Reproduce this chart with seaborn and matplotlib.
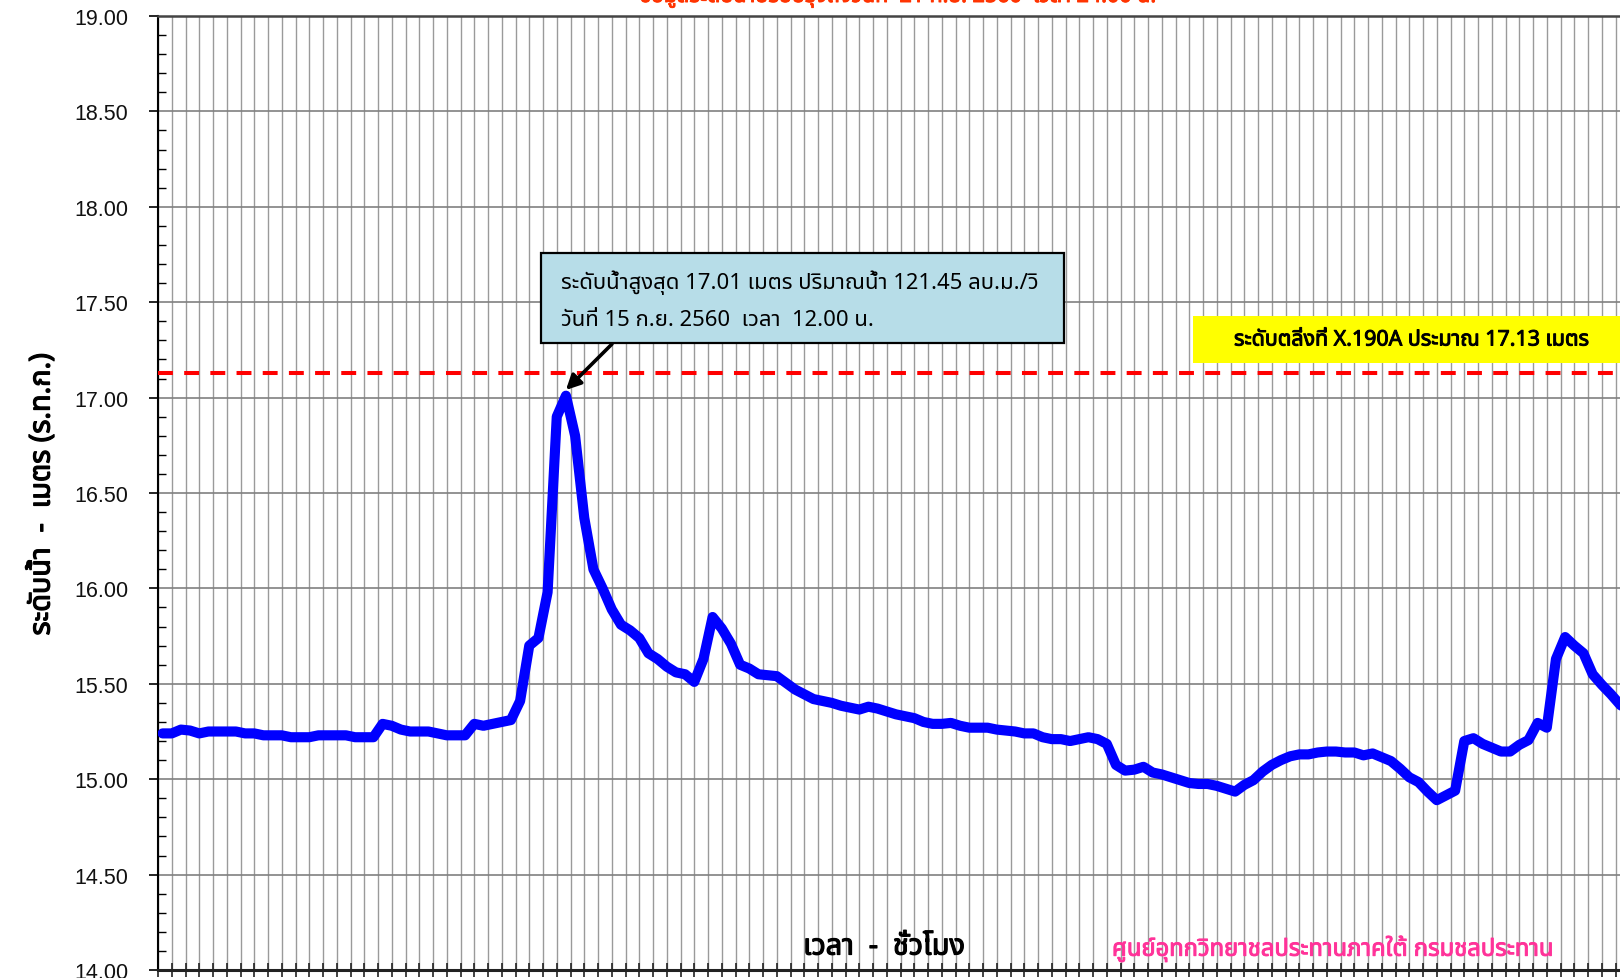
import numpy as np
import pandas as pd
import seaborn as sns
import matplotlib
matplotlib.use("Agg")
import matplotlib.pyplot as plt
import matplotlib.patheffects as pe
from matplotlib import font_manager as fm
from matplotlib.ft2font import FT2Font
from matplotlib.patches import Rectangle
from matplotlib.ticker import MultipleLocator, FixedLocator, FormatStrFormatter

# ---------------- data ----------------
levels = [
    15.24, 15.24, 15.26, 15.255, 15.24, 15.25, 15.25, 15.25, 15.25, 15.24,
    15.24, 15.23, 15.23, 15.23, 15.22, 15.22, 15.22, 15.23, 15.23, 15.23,
    15.23, 15.22, 15.22, 15.22, 15.29, 15.28, 15.26, 15.25, 15.25, 15.25,
    15.24, 15.23, 15.23, 15.23, 15.29, 15.28, 15.29, 15.30, 15.31, 15.41,
    15.70, 15.74, 15.98, 16.90, 17.01, 16.80, 16.37, 16.10, 16.00, 15.89,
    15.81, 15.78, 15.74, 15.66, 15.63, 15.59, 15.56, 15.55, 15.51, 15.63,
    15.85, 15.79, 15.71, 15.60, 15.58, 15.55, 15.545, 15.54, 15.505, 15.47,
    15.445, 15.42, 15.41, 15.40, 15.385, 15.375, 15.365, 15.38, 15.37, 15.355,
    15.34, 15.33, 15.32, 15.30, 15.29, 15.29, 15.295, 15.28, 15.27, 15.27,
    15.27, 15.26, 15.255, 15.25, 15.24, 15.24, 15.22, 15.21, 15.21, 15.20,
    15.21, 15.22, 15.21, 15.185, 15.075, 15.045, 15.05, 15.065, 15.035, 15.025,
    15.01, 14.995, 14.98, 14.975, 14.975, 14.965, 14.95, 14.935, 14.97, 14.995,
    15.04, 15.075, 15.10, 15.12, 15.13, 15.13, 15.14, 15.145, 15.145, 15.14,
    15.14, 15.125, 15.135, 15.115, 15.095, 15.055, 15.01, 14.985, 14.935, 14.89,
    14.915, 14.94, 15.20, 15.215, 15.185, 15.165, 15.145, 15.145, 15.18, 15.205,
    15.295, 15.27, 15.63, 15.745, 15.70, 15.66, 15.55, 15.495, 15.445, 15.39,
    15.35,
]
hours = list(range(len(levels)))
bank_level = 17.13
y_ticks = [14.0, 14.5, 15.0, 15.5, 16.0, 16.5, 17.0, 17.5, 18.0, 18.5, 19.0]

title = "ข้อมูลระดับน้ำปรับปรุงถึงวันที่  21 ก.ย. 2560  เวลา 24.00 น."
peak_line1 = "ระดับน้ำสูงสุด 17.01 เมตร ปริมาณน้ำ 121.45 ลบ.ม./วิ"
peak_line2 = "วันที่ 15 ก.ย. 2560  เวลา  12.00 น."
bank_text = "ระดับตลิ่งที่ X.190A ประมาณ 17.13 เมตร"
ylabel = "ระดับน้ำ  -  เมตร (ร.ท.ก.)"
xlabel = "เวลา  -  ชั่วโมง"
credit = "ศูนย์อุทกวิทยาชลประทานภาคใต้ กรมชลประทาน"

df = pd.DataFrame({"hour": hours, "level": levels})

# ---------------- fonts ----------------
def find_thai():
    names = []
    for f in fm.fontManager.ttflist:
        try:
            ft = FT2Font(f.fname)
            if ft.get_char_index(0x0E01) and ft.get_char_index(0x0E49):
                names.append(f.name)
        except Exception:
            pass
    pref = ["Tahoma", "Noto Sans Thai", "Noto Sans Thai UI", "Loma", "Garuda",
            "Sarabun", "Waree", "Tlwg Typo", "Umpush", "Kinnari", "Norasi"]
    for p in pref:
        if p in names:
            return p
    return names[0] if names else None

sns.set_style("white")
thai = find_thai()
thai_fam = ([thai] if thai else []) + ["Liberation Sans", "DejaVu Sans"]
plt.rcParams["font.family"] = ["Liberation Sans", "DejaVu Sans"]


def bold_fx(color, w=0.7):
    # regular (looped) Thai face made heavier with a thin outline
    return [pe.withStroke(linewidth=w, foreground=color)]


W, H = 1620, 979
fig = plt.figure(figsize=(W / 100, H / 100), dpi=100)

px_per_hour = 9.167
x_left = -0.5
x_right = 166.0
ax_left = 158 / W
ax_bottom = (H - 971) / H
ax_height = (971 - 17) / H
ax_width = (x_right - x_left) * px_per_hour / W
ax = fig.add_axes([ax_left, ax_bottom, ax_width, ax_height])

sns.lineplot(data=df, x="hour", y="level", ax=ax, color="#0000ff",
             linewidth=7.3, zorder=4, solid_joinstyle="round",
             solid_capstyle="round")

ax.axhline(bank_level, color="#ff0000", linewidth=2.9, dashes=(3.7, 2.8),
           zorder=3)

ax.set_xlim(x_left, x_right)
ax.set_ylim(y_ticks[0], y_ticks[-1])
ax.set_xlabel("")
ax.set_ylabel("")

ax.xaxis.set_major_locator(FixedLocator(np.arange(x_left, x_right, 1.5)))
ax.set_xticklabels([])
ax.yaxis.set_major_locator(FixedLocator(y_ticks))
ax.yaxis.set_minor_locator(MultipleLocator(0.1))
ax.yaxis.set_major_formatter(FormatStrFormatter("%.2f"))

ax.grid(axis="x", which="major", color="#9a9a9a", linewidth=1.0, zorder=1)
ax.grid(axis="y", which="major", color="#808080", linewidth=1.2, zorder=1)
ax.set_axisbelow(True)

ax.tick_params(axis="y", which="major", direction="out", length=6.5,
               width=1.2, color="black", labelsize=15.5, pad=15,
               labelcolor="#111111", left=True)
ax.tick_params(axis="y", which="minor", direction="in", length=5.5,
               width=1.0, color="black", left=True)
ax.tick_params(axis="x", which="major", direction="inout", length=10,
               width=1.2, color="#222222", bottom=True)

for s in ["left", "bottom", "top"]:
    ax.spines[s].set_visible(True)
ax.spines["left"].set_color("black")
ax.spines["left"].set_linewidth(1.5)
ax.spines["bottom"].set_color("#222222")
ax.spines["bottom"].set_linewidth(2.2)
ax.spines["top"].set_color("#444444")
ax.spines["top"].set_linewidth(1.8)

# ---------------- annotations ----------------
# title (cut off at top)
fig.text(897 / W, 1 - 3 / H, title, ha="center", va="baseline",
         color="#ff3300", fontsize=15.5, family=thai_fam,
         path_effects=bold_fx("#ff3300"))

# peak info box
ax.add_patch(Rectangle((541 / W, 1 - 344 / H), 523 / W, 90 / H,
                       transform=fig.transFigure, facecolor="#b7dde8",
                       edgecolor="black", linewidth=1.6, zorder=6,
                       clip_on=False))
fig.text(561 / W, 1 - 283 / H, peak_line1, ha="left", va="center",
         fontsize=15.9, color="black", family=thai_fam, zorder=7)
fig.text(561 / W, 1 - 320 / H, peak_line2, ha="left", va="center",
         fontsize=15.9, color="black", family=thai_fam, zorder=7)

peak_i = int(np.argmax(levels))
ax.annotate("", xy=(hours[peak_i], levels[peak_i] + 0.03),
            xytext=(612 / W, 1 - 345 / H), textcoords="figure fraction",
            arrowprops=dict(arrowstyle="-|>", color="black", lw=2.6,
                            mutation_scale=22, shrinkA=0, shrinkB=0),
            zorder=7)

# bank level label
ax.add_patch(Rectangle((1193 / W, 1 - 364 / H), 500 / W, 47 / H,
                       transform=fig.transFigure, facecolor="#ffff00",
                       edgecolor="none", zorder=6, clip_on=False))
fig.text(1234 / W, 1 - 341 / H, bank_text, ha="left", va="center",
         fontsize=15.4, color="black", family=thai_fam,
         zorder=7, path_effects=bold_fx("black"))

# axis texts
fig.text(42 / W, 1 - 495 / H, ylabel, rotation=90, ha="center", va="center",
         fontsize=20.7, color="black", family=thai_fam,
         path_effects=bold_fx("black", 0.9))
fig.text(884 / W, 1 - 948 / H, xlabel, ha="center", va="center",
         fontsize=20.7, color="black", family=thai_fam,
         path_effects=bold_fx("black", 0.9))
fig.text(1332 / W, 1 - 950 / H, credit, ha="center", va="center",
         fontsize=17.1, color="#ff3399", family=thai_fam,
         path_effects=bold_fx("#ff3399"))

fig.savefig("out.png", dpi=100)
